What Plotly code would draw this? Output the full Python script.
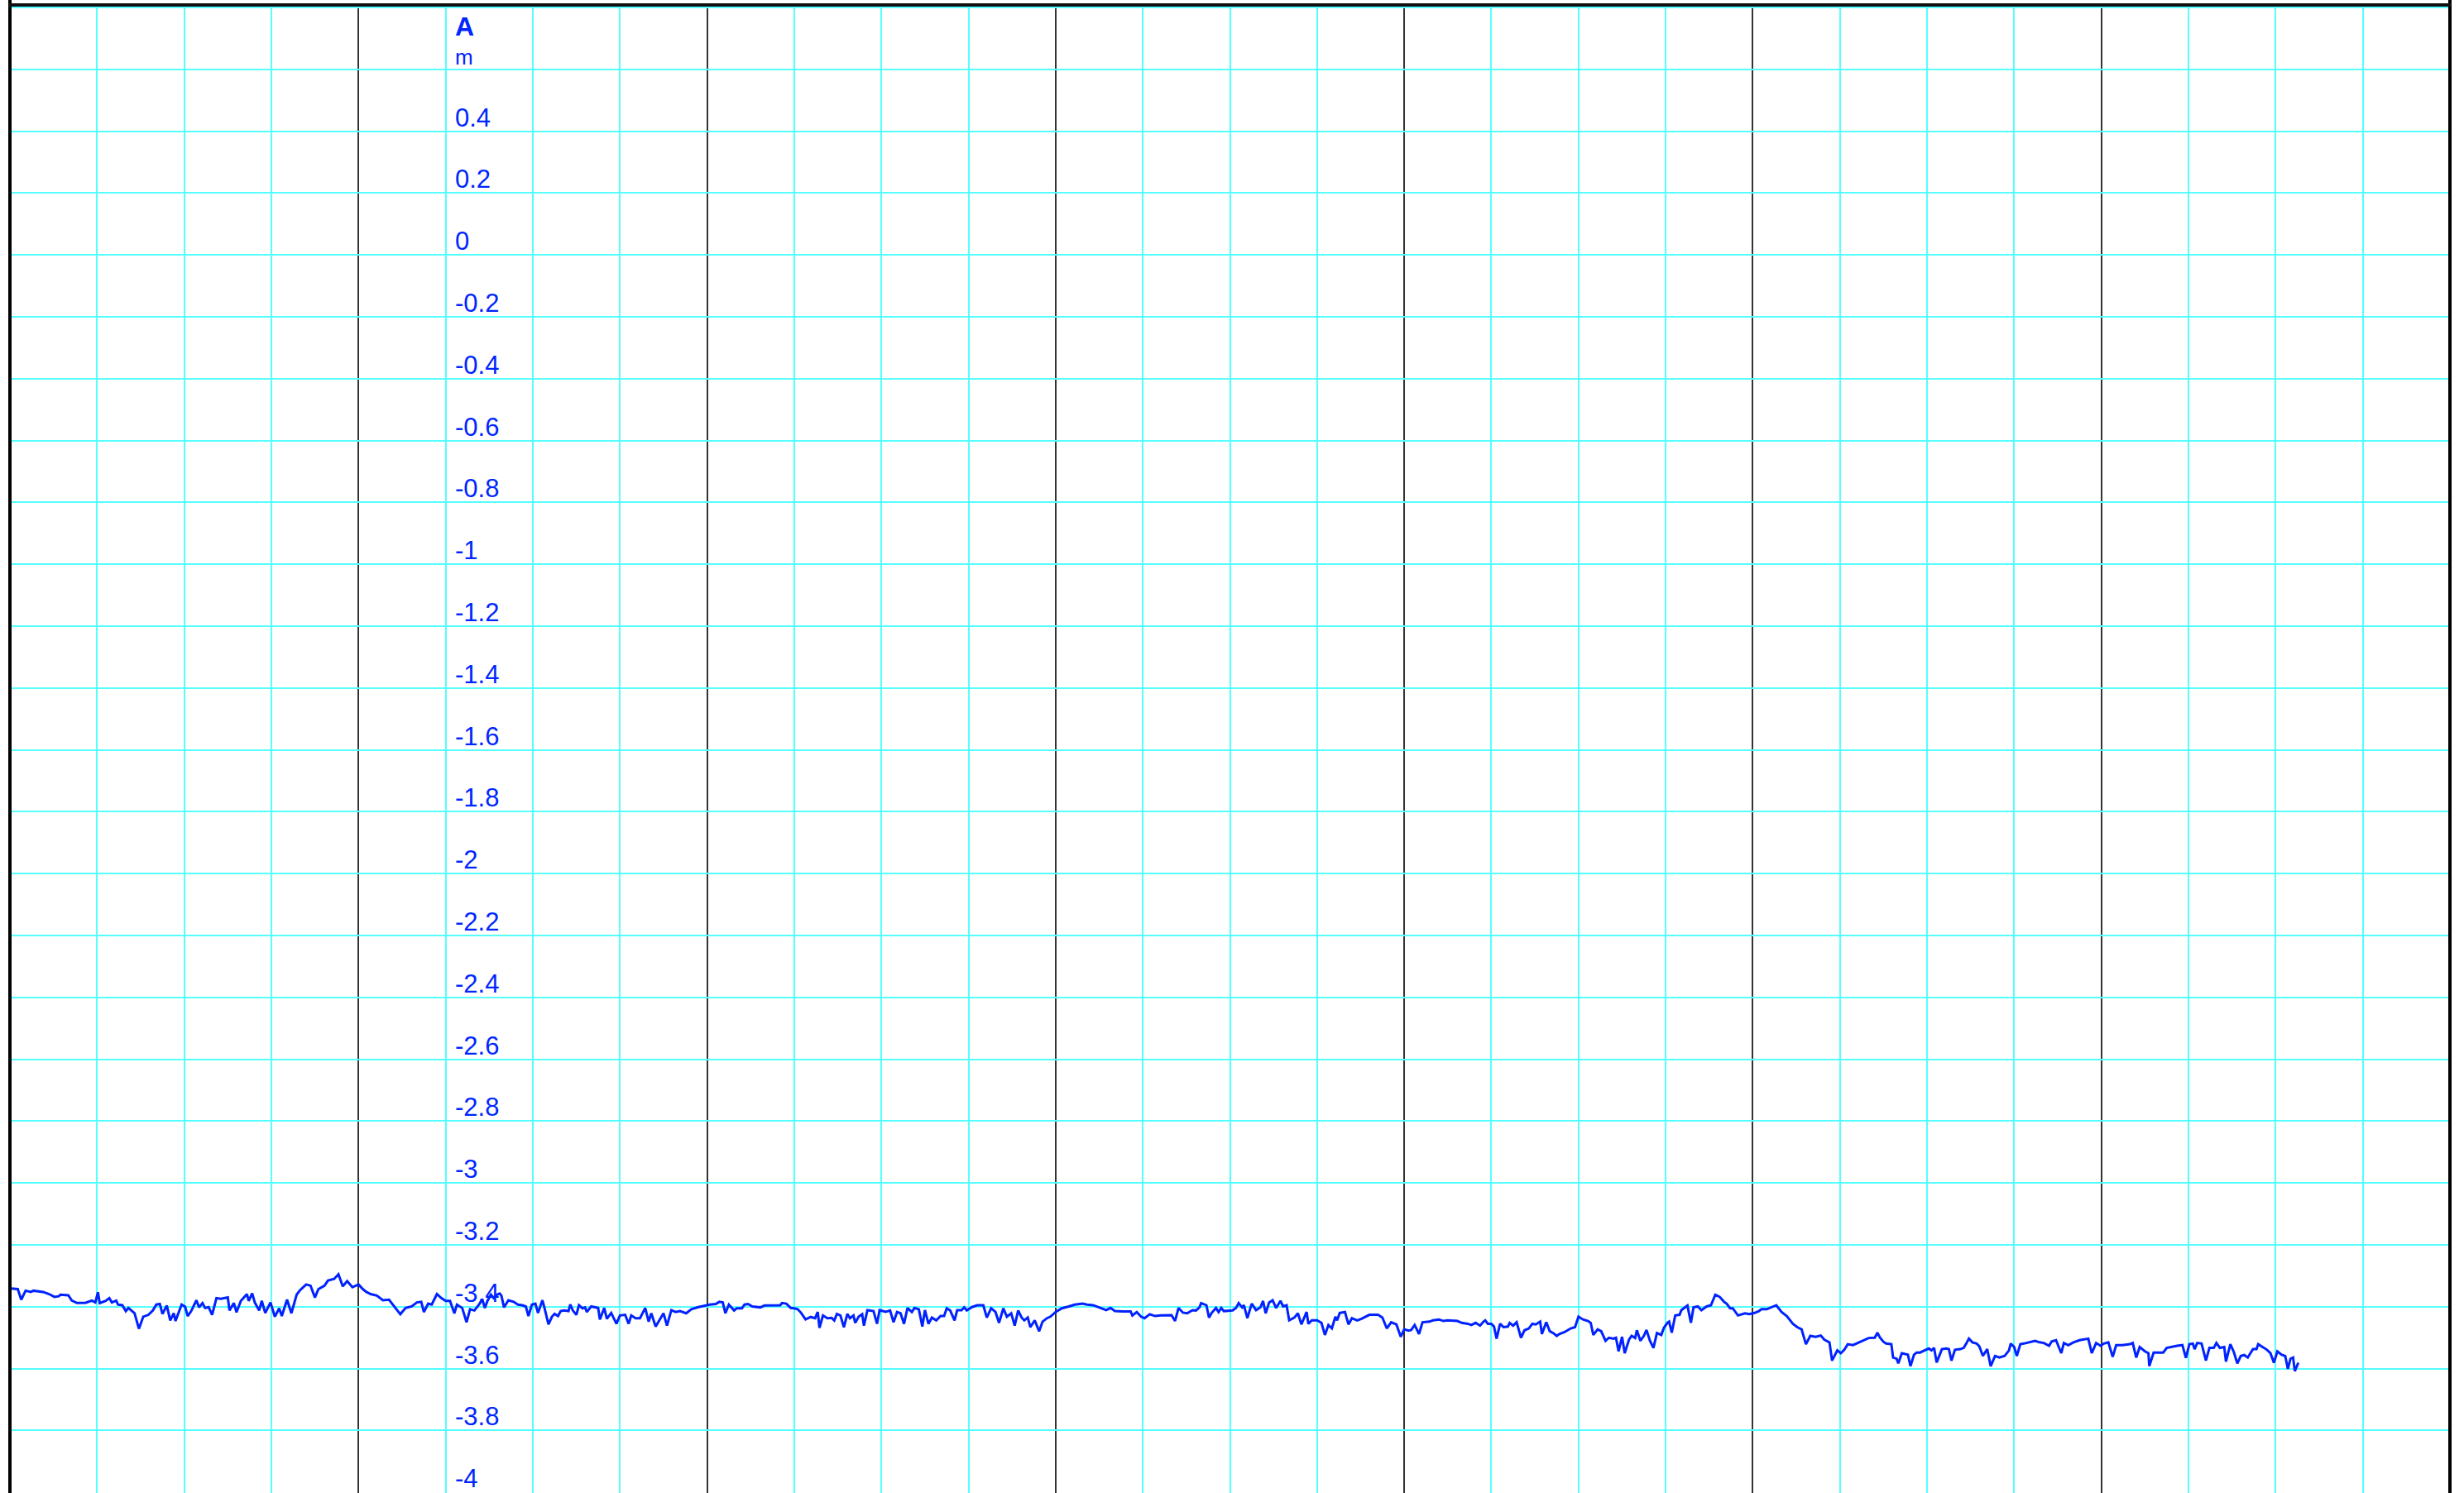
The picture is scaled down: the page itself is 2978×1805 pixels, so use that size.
import plotly.graph_objects as go

# ---------------- data (x in grid divisions, y in metres) ----------------
x_seg1 = [0.01, 0.09, 0.13, 0.18, 0.24, 0.27, 0.38, 0.45, 0.51, 0.56,
          0.58, 0.67, 0.71, 0.77, 0.87, 0.94, 0.98, 1.01, 1.03, 1.10,
          1.14, 1.17, 1.22, 1.24, 1.29, 1.33, 1.36, 1.43, 1.48, 1.53,
          1.59, 1.64, 1.68, 1.72, 1.75, 1.80, 1.84, 1.88, 1.90, 1.97,
          2.01, 2.04, 2.08, 2.14, 2.17, 2.21, 2.24, 2.28, 2.32, 2.37,
          2.42, 2.50, 2.52, 2.57, 2.60, 2.65, 2.72, 2.74, 2.78, 2.81,
          2.86, 2.89, 2.93, 2.99, 3.04, 3.09, 3.12, 3.18, 3.23, 3.29,
          3.33, 3.40, 3.45, 3.50, 3.54, 3.58, 3.61, 3.65, 3.72, 3.77,
          3.82, 3.87, 3.93, 4.00, 4.05, 4.09, 4.14, 4.21, 4.28, 4.35,
          4.42, 4.48, 4.54, 4.61, 4.67, 4.72, 4.75, 4.80, 4.84, 4.90,
          4.95, 5.00, 5.05, 5.10, 5.13, 5.19, 5.24, 5.28, 5.33, 5.39]
a_seg1 = [-3.341, -3.343, -3.377, -3.348, -3.352, -3.348, -3.352, -3.359, -3.368, -3.366,
          -3.361, -3.363, -3.380, -3.388, -3.387, -3.380, -3.386, -3.353, -3.388, -3.381,
          -3.372, -3.386, -3.380, -3.393, -3.395, -3.414, -3.404, -3.421, -3.471, -3.432,
          -3.426, -3.412, -3.393, -3.391, -3.423, -3.396, -3.444, -3.421, -3.446, -3.393,
          -3.400, -3.430, -3.414, -3.379, -3.402, -3.388, -3.404, -3.401, -3.426, -3.372,
          -3.374, -3.370, -3.412, -3.388, -3.418, -3.381, -3.359, -3.381, -3.357, -3.386,
          -3.412, -3.381, -3.420, -3.386, -3.432, -3.405, -3.430, -3.377, -3.421, -3.361,
          -3.346, -3.328, -3.332, -3.370, -3.343, -3.337, -3.332, -3.315, -3.310, -3.295,
          -3.334, -3.317, -3.337, -3.328, -3.343, -3.352, -3.359, -3.364, -3.379, -3.377,
          -3.404, -3.424, -3.404, -3.399, -3.386, -3.384, -3.417, -3.390, -3.393, -3.359,
          -3.372, -3.381, -3.381, -3.421, -3.393, -3.404, -3.450, -3.408, -3.412, -3.390]

x_seg2 = [5.42, 5.45, 5.48, 5.52, 5.55, 5.59, 5.62, 5.64, 5.67, 5.72,
          5.78, 5.83, 5.88, 5.92, 5.95, 5.99, 6.03, 6.06, 6.11, 6.13,
          6.18, 6.22, 6.25, 6.29, 6.32, 6.36, 6.41, 6.43, 6.46, 6.50,
          6.53, 6.57, 6.60, 6.62, 6.67, 6.71, 6.75, 6.77, 6.82, 6.85,
          6.90, 6.96, 7.00, 7.06, 7.10, 7.13, 7.18, 7.23, 7.29, 7.33,
          7.36, 7.41, 7.47, 7.50, 7.54, 7.59, 7.64, 7.69, 7.76, 7.82,
          7.90, 7.97, 8.03, 8.10, 8.14, 8.18, 8.21, 8.25, 8.31, 8.34,
          8.40, 8.43, 8.47, 8.52, 8.61, 8.66, 8.75, 8.84, 8.86, 8.91,
          8.96, 9.00, 9.04, 9.08, 9.13, 9.19, 9.24, 9.27, 9.29, 9.33,
          9.38, 9.43, 9.46, 9.49, 9.53, 9.57, 9.61, 9.64, 9.68, 9.70,
          9.74, 9.78, 9.80, 9.84, 9.91, 9.95, 9.98, 10.05, 10.10, 10.14,
          10.18, 10.22, 10.26, 10.30, 10.35, 10.38, 10.43, 10.47, 10.50, 10.54,
          10.58, 10.63, 10.68]
a_seg2 = [-3.375, -3.404, -3.381, -3.361, -3.372, -3.361, -3.357, -3.364, -3.402, -3.379,
          -3.384, -3.393, -3.395, -3.399, -3.430, -3.393, -3.390, -3.420, -3.379, -3.399,
          -3.457, -3.432, -3.423, -3.430, -3.414, -3.412, -3.414, -3.393, -3.412, -3.426,
          -3.395, -3.405, -3.402, -3.417, -3.399, -3.402, -3.404, -3.441, -3.404, -3.439,
          -3.420, -3.455, -3.428, -3.426, -3.455, -3.428, -3.437, -3.437, -3.404, -3.448,
          -3.421, -3.464, -3.435, -3.421, -3.461, -3.411, -3.417, -3.414, -3.421, -3.408,
          -3.401, -3.396, -3.393, -3.391, -3.384, -3.386, -3.421, -3.393, -3.412, -3.405,
          -3.405, -3.393, -3.391, -3.399, -3.402, -3.396, -3.395, -3.395, -3.388, -3.390,
          -3.404, -3.405, -3.408, -3.420, -3.441, -3.433, -3.437, -3.417, -3.468, -3.428,
          -3.437, -3.436, -3.444, -3.423, -3.428, -3.466, -3.423, -3.437, -3.428, -3.452,
          -3.432, -3.424, -3.461, -3.411, -3.414, -3.455, -3.411, -3.416, -3.412, -3.450,
          -3.417, -3.421, -3.455, -3.404, -3.417, -3.404, -3.408, -3.464, -3.411, -3.455,
          -3.435, -3.444, -3.430]

x_seg3 = [10.72, 10.75, 10.79, 10.84, 10.87, 10.92, 10.95, 10.98, 11.04, 11.10,
          11.17, 11.21, 11.26, 11.31, 11.35, 11.40, 11.44, 11.49, 11.53, 11.57,
          11.61, 11.64, 11.68, 11.71, 11.76, 11.81, 11.85, 11.90, 11.94, 12.00,
          12.07, 12.15, 12.22, 12.31, 12.36, 12.43, 12.49, 12.58, 12.63, 12.68,
          12.77, 12.86, 12.88, 12.93, 12.98, 13.02, 13.08, 13.14, 13.21, 13.33,
          13.37, 13.41, 13.46, 13.51, 13.57, 13.61, 13.65, 13.67, 13.73, 13.76,
          13.79, 13.84, 13.87, 13.90, 13.93, 13.98, 14.03, 14.07, 14.10, 14.14,
          14.16, 14.20, 14.25, 14.30, 14.35, 14.38, 14.41, 14.45, 14.49, 14.53,
          14.58, 14.61, 14.65, 14.68, 14.74, 14.78, 14.82, 14.88, 14.90, 14.94,
          15.00, 15.05, 15.09, 15.13, 15.17, 15.21, 15.23, 15.26, 15.32, 15.36,
          15.40, 15.46, 15.51, 15.60, 15.66, 15.70, 15.75, 15.80, 15.85, 15.91,
          15.96, 16.00]
a_seg3 = [-3.430, -3.405, -3.412, -3.444, -3.411, -3.411, -3.402, -3.412, -3.401, -3.395,
          -3.395, -3.435, -3.405, -3.417, -3.452, -3.405, -3.432, -3.421, -3.461, -3.412,
          -3.435, -3.444, -3.435, -3.466, -3.444, -3.479, -3.448, -3.437, -3.432, -3.417,
          -3.405, -3.399, -3.393, -3.390, -3.393, -3.395, -3.402, -3.411, -3.404, -3.414,
          -3.415, -3.415, -3.428, -3.417, -3.432, -3.437, -3.424, -3.430, -3.428, -3.427,
          -3.446, -3.404, -3.419, -3.421, -3.411, -3.412, -3.402, -3.388, -3.395, -3.435,
          -3.420, -3.404, -3.417, -3.404, -3.414, -3.412, -3.412, -3.404, -3.388, -3.402,
          -3.395, -3.437, -3.390, -3.411, -3.402, -3.381, -3.421, -3.386, -3.379, -3.404,
          -3.381, -3.399, -3.395, -3.444, -3.435, -3.421, -3.457, -3.417, -3.455, -3.444,
          -3.444, -3.452, -3.491, -3.459, -3.470, -3.432, -3.444, -3.420, -3.417, -3.457,
          -3.437, -3.444, -3.439, -3.426, -3.426, -3.426, -3.435, -3.470, -3.450, -3.457,
          -3.497, -3.473]

x_seg4 = [16.05, 16.08, 16.12, 16.17, 16.21, 16.29, 16.33, 16.40, 16.45, 16.50,
          16.61, 16.66, 16.73, 16.77, 16.82, 16.87, 16.91, 16.93, 16.96, 17.00,
          17.03, 17.06, 17.10, 17.14, 17.19, 17.21, 17.25, 17.29, 17.34, 17.38,
          17.43, 17.47, 17.51, 17.56, 17.58, 17.63, 17.67, 17.71, 17.75, 17.78,
          17.84, 17.91, 17.96, 18.00, 18.05, 18.11, 18.14, 18.17, 18.22, 18.26,
          18.31, 18.35, 18.40, 18.43, 18.46, 18.50, 18.53, 18.58, 18.61, 18.65,
          18.67, 18.71, 18.75, 18.78, 18.82, 18.86, 18.90, 18.95, 18.98, 19.02,
          19.04, 19.07, 19.11, 19.16, 19.18, 19.23, 19.25, 19.29, 19.32, 19.37,
          19.41, 19.47, 19.52, 19.57, 19.62, 19.67, 19.70, 19.74, 19.77, 19.83,
          19.91, 19.96, 20.02, 20.07, 20.10, 20.16, 20.21, 20.27, 20.33, 20.39,
          20.46, 20.51, 20.56, 20.61, 20.66, 20.72, 20.78, 20.82, 20.88, 20.91,
          20.97, 21.01, 21.05, 21.09, 21.15, 21.21, 21.28, 21.33]
a_seg4 = [-3.477, -3.475, -3.459, -3.488, -3.450, -3.448, -3.444, -3.441, -3.446, -3.444,
          -3.446, -3.452, -3.455, -3.459, -3.452, -3.461, -3.448, -3.444, -3.455, -3.455,
          -3.464, -3.503, -3.455, -3.466, -3.464, -3.452, -3.461, -3.450, -3.500, -3.476,
          -3.470, -3.455, -3.457, -3.448, -3.488, -3.450, -3.479, -3.485, -3.494, -3.488,
          -3.482, -3.470, -3.466, -3.432, -3.441, -3.446, -3.452, -3.491, -3.473, -3.479,
          -3.510, -3.500, -3.503, -3.500, -3.544, -3.497, -3.550, -3.506, -3.494, -3.501,
          -3.476, -3.510, -3.494, -3.475, -3.510, -3.533, -3.485, -3.491, -3.468, -3.452,
          -3.448, -3.484, -3.428, -3.426, -3.411, -3.399, -3.396, -3.452, -3.402, -3.399,
          -3.411, -3.399, -3.395, -3.361, -3.368, -3.384, -3.390, -3.405, -3.405, -3.428,
          -3.421, -3.424, -3.420, -3.414, -3.408, -3.408, -3.402, -3.395, -3.417, -3.430,
          -3.455, -3.466, -3.473, -3.521, -3.494, -3.497, -3.493, -3.506, -3.515, -3.574,
          -3.541, -3.550, -3.539, -3.521, -3.524, -3.517, -3.508, -3.501]

x_seg5 = [21.40, 21.43, 21.46, 21.50, 21.53, 21.59, 21.61, 21.65, 21.67, 21.71,
          21.75, 21.78, 21.81, 21.85, 21.88, 21.92, 21.95, 21.99, 22.02, 22.05,
          22.08, 22.11, 22.17, 22.22, 22.25, 22.28, 22.32, 22.38, 22.42, 22.45,
          22.48, 22.52, 22.57, 22.60, 22.64, 22.69, 22.73, 22.78, 22.83, 22.89,
          22.94, 22.96, 23.00, 23.03, 23.07, 23.11, 23.17, 23.24, 23.29, 23.34,
          23.40, 23.43, 23.48, 23.54, 23.57, 23.62, 23.68, 23.75, 23.85, 23.89,
          23.94, 23.99, 24.03, 24.08, 24.13, 24.17, 24.24, 24.33, 24.36, 24.40,
          24.44, 24.50, 24.54, 24.55, 24.60, 24.66, 24.71, 24.75, 24.82, 24.87,
          24.93, 24.97, 25.01, 25.05, 25.07, 25.10, 25.15, 25.20, 25.24, 25.29,
          25.32, 25.36, 25.41, 25.43, 25.48, 25.52, 25.56, 25.60, 25.64, 25.68,
          25.71, 25.74, 25.78, 25.80, 25.85, 25.90, 25.94, 25.98, 26.02, 26.07,
          26.11, 26.14, 26.17, 26.20, 26.22, 26.26]
a_seg5 = [-3.500, -3.484, -3.500, -3.513, -3.519, -3.521, -3.564, -3.568, -3.583, -3.550,
          -3.553, -3.555, -3.592, -3.555, -3.548, -3.548, -3.544, -3.539, -3.535, -3.541,
          -3.533, -3.580, -3.537, -3.535, -3.537, -3.574, -3.539, -3.537, -3.533, -3.519,
          -3.503, -3.515, -3.519, -3.528, -3.559, -3.537, -3.592, -3.559, -3.564, -3.559,
          -3.541, -3.519, -3.530, -3.559, -3.521, -3.519, -3.515, -3.510, -3.515, -3.517,
          -3.526, -3.512, -3.508, -3.550, -3.517, -3.524, -3.515, -3.508, -3.503, -3.550,
          -3.517, -3.526, -3.519, -3.515, -3.562, -3.524, -3.524, -3.521, -3.517, -3.564,
          -3.530, -3.544, -3.550, -3.592, -3.548, -3.548, -3.548, -3.533, -3.528, -3.526,
          -3.524, -3.565, -3.521, -3.519, -3.537, -3.517, -3.519, -3.574, -3.533, -3.533,
          -3.517, -3.533, -3.530, -3.577, -3.521, -3.546, -3.583, -3.559, -3.556, -3.564,
          -3.550, -3.537, -3.537, -3.521, -3.530, -3.539, -3.550, -3.581, -3.544, -3.555,
          -3.559, -3.601, -3.568, -3.564, -3.608, -3.581]

tick_vals = [0.4, 0.2, 0.0, -0.2, -0.4, -0.6, -0.8, -1.0, -1.2, -1.4, -1.6, -1.8,
             -2.0, -2.2, -2.4, -2.6, -2.8, -3.0, -3.2, -3.4, -3.6, -3.8, -4.0]
tick_text = ["0.4", "0.2", "0", "-0.2", "-0.4", "-0.6", "-0.8", "-1", "-1.2", "-1.4",
             "-1.6", "-1.8", "-2", "-2.2", "-2.4", "-2.6", "-2.8", "-3", "-3.2", "-3.4",
             "-3.6", "-3.8", "-4"]
series_name = "A"
series_unit = "m"

xs = x_seg1 + x_seg2 + x_seg3 + x_seg4 + x_seg5
ys = a_seg1 + a_seg2 + a_seg3 + a_seg4 + a_seg5
assert len(xs) == len(ys)

# ---------------- styling ----------------
W, H = 2978, 1805
BLUE = "#0026ff"
CYAN = "#55ffff"
FONT = "Liberation Sans, Arial, sans-serif"
LABEL_X = 0.1818  # paper fraction where the value column sits

fig = go.Figure()
fig.add_trace(go.Scatter(x=xs, y=ys, mode="lines",
                         line=dict(color="#0022ff", width=3),
                         hoverinfo="skip", showlegend=False))

annotations = []
for v, t in zip(tick_vals, tick_text):
    annotations.append(dict(x=LABEL_X, xref="paper", xanchor="left",
                            y=v, yref="y", yanchor="bottom", yshift=-3,
                            text=t, showarrow=False,
                            font=dict(family=FONT, size=31, color=BLUE)))
annotations.append(dict(x=LABEL_X, xref="paper", xanchor="left",
                        y=0.6, yref="y", yanchor="bottom", yshift=-2,
                        text=series_unit, showarrow=False,
                        font=dict(family=FONT, size=26, color=BLUE)))
annotations.append(dict(x=LABEL_X, xref="paper", xanchor="left",
                        y=0.69, yref="y", yanchor="bottom", yshift=-2,
                        text="<b>" + series_name + "</b>", showarrow=False,
                        font=dict(family=FONT, size=32, color=BLUE)))

shapes = [
    dict(type="line", xref="paper", yref="paper", x0=0, x1=0, y0=0, y1=1.01,
         line=dict(color="black", width=4)),
    dict(type="line", xref="paper", yref="paper", x0=1, x1=1, y0=0, y1=1.01,
         line=dict(color="black", width=4)),
    dict(type="line", xref="paper", yref="paper", x0=-0.0007, x1=1.0007, y0=1, y1=1,
         line=dict(color="#111111", width=4)),
]

fig.update_layout(
    width=W, height=H,
    margin=dict(l=12, r=17, t=6, b=0, pad=0),
    paper_bgcolor="white", plot_bgcolor="white",
    showlegend=False,
    annotations=annotations,
    shapes=shapes,
    xaxis=dict(range=[0, 28], tick0=0, dtick=4, showgrid=True,
               gridcolor="#333333", gridwidth=2,
               minor=dict(tick0=0, dtick=1, showgrid=True,
                          gridcolor=CYAN, gridwidth=2),
               showticklabels=False, ticks="", zeroline=False, showline=False),
    yaxis=dict(range=[-4.002, 0.808], tick0=0, dtick=0.2, showgrid=True,
               gridcolor=CYAN, gridwidth=2,
               showticklabels=False, ticks="", zeroline=False, showline=False),
)

fig.write_html("out.html",
               config={"displayModeBar": False, "staticPlot": True},
               post_script="document.body.style.margin='0';document.body.style.overflow='hidden';")
